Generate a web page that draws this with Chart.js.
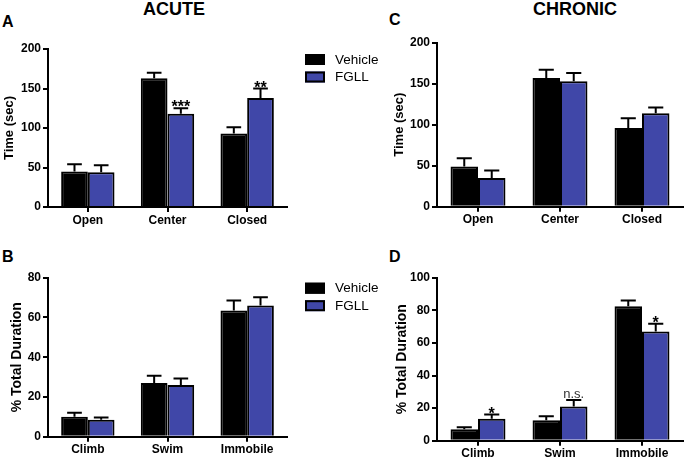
<!DOCTYPE html>
<html>
<head>
<meta charset="utf-8">
<script src="https://cdn.jsdelivr.net/npm/chart.js"></script>
<style>
  body { margin: 0; background: #fff; }
  #page { position: relative; width: 685px; height: 457px; overflow: hidden; font-family: "Liberation Sans", Arial, sans-serif; }
  canvas { position: absolute; }
  .txt { position: absolute; font-weight: bold; color: #000; line-height: 1; white-space: nowrap; }
</style>
</head>
<body>
<div id="page">
  <div class="txt" style="left:143px; top:0px; font-size:18px;">ACUTE</div>
  <div class="txt" style="left:533px; top:0px; font-size:18px;">CHRONIC</div>
  <div class="txt" style="left:2px; top:14px; font-size:16px;">A</div>
  <div class="txt" style="left:2px; top:249px; font-size:16px;">B</div>
  <div class="txt" style="left:389px; top:12px; font-size:16px;">C</div>
  <div class="txt" style="left:389px; top:249px; font-size:16px;">D</div>
  <canvas id="chartA" style="left:0px; top:30px;" width="390" height="200"></canvas>
  <canvas id="chartB" style="left:0px; top:258px;" width="390" height="199"></canvas>
  <canvas id="chartC" style="left:389px; top:30px;" width="296" height="200"></canvas>
  <canvas id="chartD" style="left:389px; top:258px;" width="296" height="199"></canvas>
</div>
<script>
// plus maze: time spent in each arm (sec), mean and SEM
const mazeCategories = ["Open", "Center", "Closed"]
const acuteMazeVehicle = [45, 163, 93]
const acuteMazeVehicleErr = [9, 7, 8]
const acuteMazeFgll = [44, 118, 138]
const acuteMazeFgllErr = [9, 7, 12]
const acuteMazeMarks = ["", "***", "**"]

const chronicMazeVehicle = [49, 157, 96]
const chronicMazeVehicleErr = [10, 10, 12]
const chronicMazeFgll = [35, 153, 114]
const chronicMazeFgllErr = [9, 10, 7]
const chronicMazeMarks = ["", "", ""]

// forced swim: % total duration
const swimCategories = ["Climb", "Swim", "Immobile"]
const acuteSwimVehicle = [10, 27, 63.5]
const acuteSwimVehicleErr = [2, 3.7, 5]
const acuteSwimFgll = [8.5, 26, 66]
const acuteSwimFgllErr = [1.2, 3.3, 4.2]
const acuteSwimMarks = ["", "", ""]

const chronicSwimVehicle = [7, 12.5, 82.5]
const chronicSwimVehicleErr = [1.3, 2.5, 3.5]
const chronicSwimFgll = [13.5, 21, 67]
const chronicSwimFgllErr = [2.5, 4, 4.7]
const chronicSwimMarks = ["*", "n.s.", "*"]

const seriesNames = ["Vehicle", "FGLL"]
const mazeTicks = [0, 50, 100, 150, 200]
const swimTicksAcute = [0, 20, 40, 60, 80]
const swimTicksChronic = [0, 20, 40, 60, 80, 100]

const BLUE = "#4047a8"
const FONT = "'Liberation Sans', Arial, sans-serif"

const errorBars = {
    id: "errorBars",
    afterDatasetsDraw(chart) {
        const ctx = chart.ctx
        const yScale = chart.scales.y
        chart.data.datasets.forEach((ds, i) => {
            const meta = chart.getDatasetMeta(i)
            meta.data.forEach((bar, j) => {
                const top = yScale.getPixelForValue(ds.data[j] + ds.errors[j])
                const cap = bar.width * 0.55
                ctx.save()
                ctx.strokeStyle = "#000"
                ctx.lineWidth = 2
                ctx.beginPath()
                ctx.moveTo(bar.x, bar.y)
                ctx.lineTo(bar.x, top)
                ctx.moveTo(bar.x - cap / 2, top)
                ctx.lineTo(bar.x + cap / 2, top)
                ctx.stroke()
                const mark = ds.marks ? ds.marks[j] : ""
                if (mark) {
                    ctx.textAlign = "center"
                    ctx.textBaseline = "alphabetic"
                    if (mark === "n.s.") {
                        ctx.fillStyle = "#333"
                        ctx.font = "13px " + FONT
                        ctx.fillText(mark, bar.x, top - 2)
                    } else {
                        ctx.fillStyle = "#000"
                        ctx.font = "bold 16px " + FONT
                        ctx.fillText(mark, bar.x, top + 4)
                    }
                }
                ctx.restore()
            })
        })
    },
}

const sideLegend = {
    id: "sideLegend",
    afterDraw(chart, args, opts) {
        if (!opts.show) return
        const ctx = chart.ctx
        const x = chart.chartArea.right + 18
        let y = chart.chartArea.top + 5
        chart.data.datasets.forEach((ds) => {
            ctx.save()
            ctx.fillStyle = ds.backgroundColor
            ctx.fillRect(x, y, 20, 11)
            ctx.strokeStyle = "#000"
            ctx.lineWidth = 2
            ctx.strokeRect(x + 1, y + 1, 18, 9)
            ctx.fillStyle = "#000"
            ctx.font = "13.5px " + FONT
            ctx.textBaseline = "middle"
            ctx.fillText(ds.label, x + 30, y + 6)
            ctx.restore()
            y += 17.5
        })
    },
}

function makePanel(id, p) {
    return new Chart(document.getElementById(id), {
        type: "bar",
        data: {
            labels: p.labels,
            datasets: [
                {
                    label: seriesNames[0],
                    data: p.vehicle,
                    errors: p.vehicleErr,
                    backgroundColor: "#000",
                    borderColor: "#000",
                    borderWidth: 2,
                },
                {
                    label: seriesNames[1],
                    data: p.fgll,
                    errors: p.fgllErr,
                    marks: p.marks,
                    backgroundColor: BLUE,
                    borderColor: "#000",
                    borderWidth: 2,
                },
            ],
        },
        options: {
            responsive: false,
            animation: false,
            events: [],
            layout: { autoPadding: false, padding: { top: p.padTop, right: p.padRight, left: 0, bottom: 0 } },
            datasets: { bar: { barPercentage: 1, categoryPercentage: 0.67 } },
            plugins: {
                legend: { display: false },
                tooltip: { enabled: false },
                sideLegend: { show: p.legend },
            },
            scales: {
                x: {
                    afterFit: (s) => { s.height = p.xHeight },
                    grid: { display: true, offset: false, drawOnChartArea: false, drawTicks: true, tickLength: 5, color: "#000", lineWidth: 2 },
                    border: { display: true, color: "#000", width: 2 },
                    ticks: { color: "#000", font: { family: FONT, size: 12, weight: "bold" }, padding: 1, maxRotation: 0 },
                },
                y: {
                    min: 0,
                    max: p.ticks[p.ticks.length - 1],
                    afterFit: (s) => { s.width = 48 },
                    afterBuildTicks: (s) => { s.ticks = p.ticks.map((v) => ({ value: v })) },
                    grid: { display: true, drawOnChartArea: false, drawTicks: true, tickLength: 5, color: "#000", lineWidth: 2 },
                    border: { display: true, color: "#000", width: 2 },
                    ticks: { color: "#000", font: { family: FONT, size: 12, weight: "bold" }, padding: 2 },
                    title: {
                        display: true,
                        text: p.yTitle,
                        color: "#000",
                        font: { family: FONT, size: p.titleSize, weight: "bold" },
                        padding: { top: p.titlePad, bottom: 0 },
                    },
                },
            },
        },
        plugins: [errorBars, sideLegend],
    })
}

makePanel("chartA", {
    labels: mazeCategories, vehicle: acuteMazeVehicle, vehicleErr: acuteMazeVehicleErr,
    fgll: acuteMazeFgll, fgllErr: acuteMazeFgllErr, marks: acuteMazeMarks,
    ticks: mazeTicks, yTitle: "Time (sec)", titleSize: 13, titlePad: 2,
    padTop: 19, padRight: 103, xHeight: 23, legend: true,
})
makePanel("chartB", {
    labels: swimCategories, vehicle: acuteSwimVehicle, vehicleErr: acuteSwimVehicleErr,
    fgll: acuteSwimFgll, fgllErr: acuteSwimFgllErr, marks: acuteSwimMarks,
    ticks: swimTicksAcute, yTitle: "% Total Duration", titleSize: 14, titlePad: 8.5,
    padTop: 19.7, padRight: 103, xHeight: 20.3, legend: true,
})
makePanel("chartC", {
    labels: mazeCategories, vehicle: chronicMazeVehicle, vehicleErr: chronicMazeVehicleErr,
    fgll: chronicMazeFgll, fgllErr: chronicMazeFgllErr, marks: chronicMazeMarks,
    ticks: mazeTicks, yTitle: "Time (sec)", titleSize: 13, titlePad: 3,
    padTop: 12.7, padRight: 2, xHeight: 23.3, legend: false,
})
makePanel("chartD", {
    labels: swimCategories, vehicle: chronicSwimVehicle, vehicleErr: chronicSwimVehicleErr,
    fgll: chronicSwimFgll, fgllErr: chronicSwimFgllErr, marks: chronicSwimMarks,
    ticks: swimTicksChronic, yTitle: "% Total Duration", titleSize: 14, titlePad: 4.5,
    padTop: 19.7, padRight: 2, xHeight: 16.3, legend: false,
})
</script>
</body>
</html>
